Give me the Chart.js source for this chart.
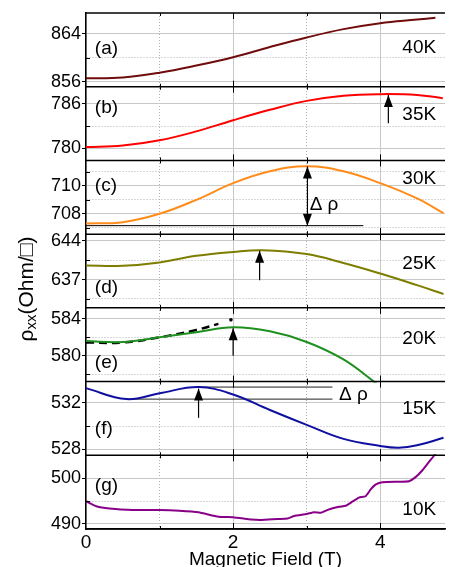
<!DOCTYPE html>
<html>
<head>
<meta charset="utf-8">
<script src="https://cdn.jsdelivr.net/npm/chart.js@4.4.1/dist/chart.umd.min.js"></script>
<style>
  html, body { margin: 0; padding: 0; background: #fff; }
  #wrap { width: 449px; height: 567px; }
</style>
</head>
<body>
<div id="wrap"><canvas id="mr" width="449" height="567"></canvas></div>
<script>
// rho_xx (Ohm/sq) against magnetic field (T), one panel per temperature
const fieldA = [0, 0.5, 1, 1.5, 2, 2.5, 3, 3.5, 4, 4.5, 4.75];
const rhoA = [856.55, 856.7, 857.5, 858.7, 860.1, 861.8, 863.4, 864.8, 865.8, 866.4, 866.7];

const fieldB = [0, 0.5, 1, 1.5, 2, 2.5, 3, 3.5, 4, 4.5, 4.85];
const rhoB = [780.2, 780.4, 781.1, 782.3, 783.8, 785.2, 786.4, 787.1, 787.3, 787.2, 786.75];

const fieldC = [0, 0.5, 1, 1.5, 2, 2.5, 3, 3.5, 4, 4.5, 4.86];
const rhoC = [707.3, 707.4, 708.0, 709.0, 710.2, 711.05, 711.41, 711.05, 710.2, 709.1, 708.04];

const fieldD = [0, 0.5, 1, 1.5, 2, 2.4, 3, 3.5, 4, 4.5, 4.86];
const rhoD = [639.55, 639.5, 640.1, 641.3, 642.0, 642.3, 641.6, 640.0, 638.1, 636.0, 634.4];

const fieldE = [0, 0.5, 1, 1.5, 2, 2.5, 3, 3.5, 4, 4.5];
const rhoE = [581.6, 581.5, 582.0, 582.56, 583.1, 582.65, 581.5, 579.6, 576.7, 574.0];
// dashed fit in (e)
const fieldFit = [0, 0.5, 1, 1.5, 1.8];
const rhoFit = [581.44, 581.44, 582.0, 582.8, 583.46];

const fieldF = [0, 0.55, 1, 1.53, 2, 2.5, 3, 3.5, 4, 4.25, 4.5, 4.86];
const rhoF = [533.24, 532.3, 532.8, 533.33, 532.7, 531.37, 530.1, 528.9, 528.3, 528.15, 528.35, 529.0];

const fieldG = [0, 0.14, 0.32, 0.64, 1.0, 1.27, 1.53, 1.8, 2.0, 2.25, 2.38, 2.6, 2.74, 2.83, 3.0, 3.1, 3.2, 3.3,
  3.44, 3.53, 3.62, 3.71, 3.8, 3.87, 3.94, 4.03, 4.26, 4.39, 4.48, 4.57, 4.66, 4.73, 4.77];
const rhoG = [495.0, 493.9, 493.4, 493.06, 493.06, 492.9, 492.56, 491.6, 491.5, 491.0, 490.9, 491.1, 491.2, 491.75,
  492.2, 492.6, 492.5, 493.2, 493.8, 494.0, 494.9, 495.8, 496.1, 497.6, 498.7, 499.2, 499.3, 499.4, 500.3,
  501.75, 503.6, 505.0, 506.0];

const panelIds = ['a', 'b', 'c', 'd', 'e', 'f', 'g'];
const panelTags = ['(a)', '(b)', '(c)', '(d)', '(e)', '(f)', '(g)'];
const temps = ['40K', '35K', '30K', '25K', '20K', '15K', '10K'];
const fields = [fieldA, fieldB, fieldC, fieldD, fieldE, fieldF, fieldG];
const rhos = [rhoA, rhoB, rhoC, rhoD, rhoE, rhoF, rhoG];
const lineColors = ['#700c0c', '#ff0000', '#ff8c1a', '#7d7d00', '#1f9020', '#1010a0', '#880088'];

const yMin = [855.15, 778.4, 706.54, 631.9, 577.2, 527.5, 488.9];
const yMax = [867.5, 788.3, 711.83, 645.2, 585.2, 533.8, 505.1];
const majorTicks = [[856, 864], [780, 786], [708, 710], [637, 644], [580, 584], [528, 532], [490, 500]];
const minorTicks = [[860], [783], [707, 709, 711], [633.5, 640.5], [578, 582], [530], [495]];
const fieldTicks = [0, 1, 2, 3, 4];
const fieldLabels = [0, 2, 4];

// annotation places, in data units
const tagAt = [861.45, 785.5, 710, 635.6, 579.2, 529.8, 498.3];
const tempAt = [861.6, 784.5, 710.5, 639.85, 581.8, 531.5, 493.2];
const arrows = [
  {p: 1, x: 4.11, from: 783.4, to: 787.2},
  {p: 2, x: 3.01, from: 707.15, to: 711.4, both: true},
  {p: 3, x: 2.36, from: 636.9, to: 642.2},
  {p: 4, x: 2.0, from: 580.0, to: 583.0},
  {p: 5, x: 1.53, from: 530.7, to: 533.2}
];
const deltaLabels = [{p: 2, x: 3.04, y: 708.68}, {p: 5, x: 3.44, y: 532.66}];

const FONT = '"Liberation Sans", Arial, sans-serif';
const ax = i => 'y' + panelIds[i];

const datasets = panelIds.map((id, i) => ({
  data: fields[i].map((x, j) => ({x: x, y: rhos[i][j]})),
  yAxisID: ax(i),
  borderColor: lineColors[i],
  borderWidth: 2,
  pointRadius: 0,
  tension: i === 6 ? 0.15 : 0.4,
  clip: 1
}));

datasets.push({
  data: fieldFit.map((x, j) => ({x: x, y: rhoFit[j]})),
  yAxisID: 'ye', borderColor: '#000', borderWidth: 2.5, borderDash: [8, 5],
  pointRadius: 0, tension: 0.4
});
datasets.push({
  data: [{x: 1.97, y: 583.9}], yAxisID: 'ye', showLine: false,
  pointRadius: 1.8, pointBackgroundColor: '#000', pointBorderWidth: 0
});
// delta rho reference lines
datasets.push({data: [{x: 0, y: 707.15}, {x: 3.77, y: 707.15}], yAxisID: 'yc',
  borderColor: '#000', borderWidth: 1, pointRadius: 0});
datasets.push({data: [{x: 1.53, y: 533.33}, {x: 3.35, y: 533.33}], yAxisID: 'yf',
  borderColor: '#222', borderWidth: 1, pointRadius: 0});
datasets.push({data: [{x: 0.55, y: 532.3}, {x: 3.35, y: 532.3}], yAxisID: 'yf',
  borderColor: '#222', borderWidth: 1, pointRadius: 0});

const scales = {
  x: {
    type: 'linear', min: 0, max: 4.88,
    afterBuildTicks: s => { s.ticks = fieldTicks.map(v => ({value: v})); },
    ticks: {
      autoSkip: false, maxRotation: 0, padding: 2, color: '#000',
      font: {family: FONT, size: 19},
      callback: v => fieldLabels.includes(v) ? String(v) : ''
    },
    grid: {
      color: c => (c.tick && !fieldLabels.includes(c.tick.value)) ? '#b0b0b0' : '#c8c8c8',
      drawTicks: false
    },
    border: {
      color: '#000', width: 1.5,
      dash: c => (c.tick && !fieldLabels.includes(c.tick.value)) ? [1, 2] : []
    },
    title: {
      display: true, text: 'Magnetic Field (T)', color: '#000',
      font: {family: FONT, size: 19, lineHeight: 0.75}, padding: 0
    },
    afterFit: s => { s.height = 38; }
  }
};

panelIds.forEach((id, i) => {
  scales[ax(i)] = {
    type: 'linear', position: 'left', stack: 'mr', stackWeight: 1, weight: 7 - i,
    min: yMin[i], max: yMax[i],
    afterBuildTicks: s => {
      s.ticks = majorTicks[i].concat(minorTicks[i]).sort((a, b) => a - b).map(v => ({value: v}));
    },
    afterFit: s => { s.width = 86; },
    ticks: {
      autoSkip: false, padding: 1, color: '#000',
      font: {family: FONT, size: 18},
      callback: v => majorTicks[i].includes(v) ? String(v) : ''
    },
    grid: {
      tickLength: 4,
      color: c => (c.tick && minorTicks[i].includes(c.tick.value)) ? '#b0b0b0' : '#c8c8c8',
      tickColor: c => (c.tick && minorTicks[i].includes(c.tick.value)) ? 'rgba(0,0,0,0)' : '#000'
    },
    border: {
      color: '#000', width: 1.5,
      dash: c => (c.tick && minorTicks[i].includes(c.tick.value)) ? [1, 2] : []
    }
  };
});

function arrowHead(ctx, x, y, dir) {
  // dir -1: points up, +1: points down
  ctx.beginPath();
  ctx.moveTo(x, y);
  ctx.lineTo(x - 4.5, y - dir * 12);
  ctx.lineTo(x + 4.5, y - dir * 12);
  ctx.closePath();
  ctx.fill();
}

const frame = {
  id: 'frame',
  afterDatasetsDraw(chart) {
    const {ctx, chartArea: ca} = chart;
    const xs = chart.scales.x;
    ctx.save();
    ctx.strokeStyle = '#000';
    const edges = panelIds.map((id, i) => chart.scales[ax(i)].top);
    edges.push(ca.bottom);
    ctx.lineWidth = 1.5;
    edges.forEach(y => {
      ctx.beginPath(); ctx.moveTo(ca.left, y); ctx.lineTo(ca.right, y); ctx.stroke();
    });
    ctx.lineWidth = 1;
    edges.forEach((y, k) => {
      fieldTicks.forEach(v => {
        if (v === 0) return;
        const px = Math.round(xs.getPixelForValue(v)) + 0.5;
        const len = fieldLabels.includes(v) ? 6 : 3;
        const up = k === 0 ? 0 : len;
        const down = k === edges.length - 1 ? 0 : len;
        ctx.beginPath(); ctx.moveTo(px, y - up); ctx.lineTo(px, y + down); ctx.stroke();
      });
    });
    // inward minor ticks on the left axis
    panelIds.forEach((id, i) => {
      const s = chart.scales[ax(i)];
      minorTicks[i].forEach(v => {
        const py = Math.round(s.getPixelForValue(v)) + 0.5;
        ctx.beginPath(); ctx.moveTo(ca.left, py); ctx.lineTo(ca.left + 4, py); ctx.stroke();
      });
    });
    // arrows
    ctx.fillStyle = '#000';
    ctx.lineWidth = 1.2;
    arrows.forEach(a => {
      const s = chart.scales[ax(a.p)];
      const px = xs.getPixelForValue(a.x);
      const y0 = s.getPixelForValue(a.from);
      const y1 = s.getPixelForValue(a.to);
      ctx.beginPath(); ctx.moveTo(px, y0); ctx.lineTo(px, y1); ctx.stroke();
      arrowHead(ctx, px, y1, y1 < y0 ? -1 : 1);
      if (a.both) arrowHead(ctx, px, y0, y0 < y1 ? -1 : 1);
    });
    ctx.restore();
  },
  afterDraw(chart) {
    const {ctx} = chart;
    const xs = chart.scales.x;
    ctx.save();
    ctx.fillStyle = '#000';
    ctx.font = '19px ' + FONT;
    ctx.textBaseline = 'middle';
    panelIds.forEach((id, i) => {
      const s = chart.scales[ax(i)];
      ctx.textAlign = 'left';
      ctx.fillText(panelTags[i], xs.getPixelForValue(0.12), s.getPixelForValue(tagAt[i]));
      ctx.textAlign = 'right';
      ctx.fillText(temps[i], xs.getPixelForValue(4.76), s.getPixelForValue(tempAt[i]));
    });
    ctx.textAlign = 'left';
    deltaLabels.forEach(d => {
      ctx.fillText('Δ ρ', xs.getPixelForValue(d.x), chart.scales[ax(d.p)].getPixelForValue(d.y));
    });
    // y title with subscript
    const big = '21px ' + FONT;
    const small = '15px ' + FONT;
    ctx.translate(33, 289);
    ctx.rotate(-Math.PI / 2);
    ctx.textBaseline = 'alphabetic';
    ctx.font = big;
    const w1 = ctx.measureText('ρ').width;
    const w3 = ctx.measureText('(Ohm/□)').width;
    ctx.font = small;
    const w2 = ctx.measureText('xx').width;
    const x0 = -(w1 + w2 + w3) / 2;
    ctx.font = big;
    ctx.fillText('ρ', x0, 0);
    ctx.font = small;
    ctx.fillText('xx', x0 + w1, 3);
    ctx.font = big;
    ctx.fillText('(Ohm/□)', x0 + w1 + w2, 0);
    ctx.restore();
  }
};

new Chart(document.getElementById('mr'), {
  type: 'line',
  data: {datasets: datasets},
  options: {
    responsive: false,
    animation: false,
    devicePixelRatio: 1,
    layout: {padding: {top: 13, right: 0, bottom: 0, left: 0}},
    plugins: {legend: {display: false}, tooltip: {enabled: false}},
    scales: scales
  },
  plugins: [frame]
});
</script>
</body>
</html>
